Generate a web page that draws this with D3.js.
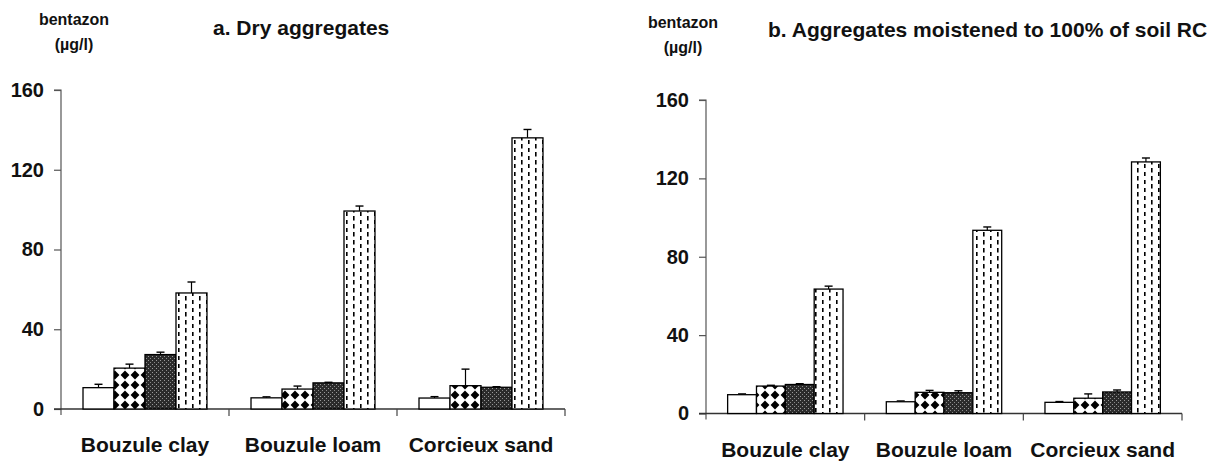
<!DOCTYPE html>
<html><head><meta charset="utf-8">
<script src="https://cdn.jsdelivr.net/npm/d3@7"></script>
<style>
html,body{margin:0;padding:0;background:#fff;}
svg text{font-family:"Liberation Sans",Arial,Helvetica,sans-serif;font-weight:bold;fill:#111;}
</style></head>
<body>
<svg id="chart" width="1214" height="461"></svg>
<script>
// ---- data ----
const categories = ["Bouzule clay", "Bouzule loam", "Corcieux sand"];
const seriesKeys = ["plain", "diamond", "dark", "dashed"];
const yTicks = [0, 40, 80, 120, 160];

// a. Dry aggregates
const dryPlain   = [10.7, 5.6, 5.5];
const dryDiamond = [20.5, 10.0, 11.7];
const dryDark    = [27.3, 13.1, 10.9];
const dryDashed  = [58.2, 99.3, 136.0];
const dryPlainErr   = [1.7, 0.5, 0.7];
const dryDiamondErr = [2.0, 1.5, 8.3];
const dryDarkErr    = [1.2, 0.3, 0.3];
const dryDashedErr  = [5.5, 2.5, 4.2];

// b. Aggregates moistened to 100% of soil RC
const wetPlain   = [9.6, 6.0, 5.7];
const wetDiamond = [14.0, 10.8, 7.8];
const wetDark    = [14.8, 10.6, 11.0];
const wetDashed  = [63.5, 93.5, 128.4];
const wetPlainErr   = [0.4, 0.4, 0.4];
const wetDiamondErr = [0.4, 1.0, 2.2];
const wetDarkErr    = [0.4, 1.0, 1.0];
const wetDashedErr  = [1.5, 1.7, 2.0];

const yLabel1 = "bentazon";
const yLabel2 = "(µg/l)";
const titleA = "a. Dry aggregates";
const titleB = "b. Aggregates moistened to 100% of soil RC";

// ---- drawing ----
const svg = d3.select("#chart");
const defs = svg.append("defs");

// diamond pattern
const pd = defs.append("pattern").attr("id","pat-diamond").attr("patternUnits","userSpaceOnUse")
  .attr("width",10).attr("height",10);
pd.append("rect").attr("width",10).attr("height",10).attr("fill","#fff");
pd.append("path").attr("d","M5,0.6 L9.4,5 L5,9.4 L0.6,5 Z").attr("fill","#000");
// dark stipple pattern
const pk = defs.append("pattern").attr("id","pat-dark").attr("patternUnits","userSpaceOnUse")
  .attr("width",4).attr("height",4);
pk.append("rect").attr("width",4).attr("height",4).attr("fill","#2b2b2b");
pk.append("rect").attr("x",0).attr("y",0).attr("width",1).attr("height",1).attr("fill","#9a9a9a");
pk.append("rect").attr("x",2).attr("y",2).attr("width",1).attr("height",1).attr("fill","#8a8a8a");
// dashed pattern
const pv = defs.append("pattern").attr("id","pat-dashed").attr("patternUnits","userSpaceOnUse")
  .attr("width",14).attr("height",8);
pv.append("rect").attr("width",14).attr("height",8).attr("fill","#fff");
pv.append("rect").attr("x",3).attr("y",0).attr("width",1.6).attr("height",4.5).attr("fill","#000");
pv.append("rect").attr("x",10).attr("y",4).attr("width",1.6).attr("height",4.5).attr("fill","#000");

const fills = {plain:"#fff", diamond:"url(#pat-diamond)", dark:"url(#pat-dark)", dashed:"url(#pat-dashed)"};

function panel(cfg){
  const {x0,x1,yZero,yTop,pad,means,errs,title,titleX,titleY,lab1,lab2} = cfg;
  const y = d3.scaleLinear().domain([0,160]).range([yZero,yTop]);
  const x = d3.scaleBand().domain(categories).range([x0,x1]).padding(0);
  const xs = d3.scaleBand().domain(seriesKeys).range([0,x.bandwidth()]).paddingInner(0).paddingOuter(pad);
  const g = svg.append("g");

  // y axis
  const yAxis = d3.axisLeft(y).tickValues(yTicks).tickSize(7).tickPadding(10).tickFormat(d3.format("d"));
  const ya = g.append("g").attr("transform",`translate(${x0},0)`).call(yAxis);
  ya.select(".domain").attr("d",`M-7,${yTop}H0V${yZero+6}`).attr("stroke","#555").attr("stroke-width",1.2).attr("fill","none");
  ya.selectAll(".tick line").attr("stroke","#555").attr("stroke-width",1.2);
  ya.selectAll(".tick text").attr("font-size",20).attr("font-weight","bold").attr("fill","#111")
    .attr("font-family","'Liberation Sans',Arial,sans-serif");

  // x axis
  const xAxis = d3.axisBottom(x).tickSize(0).tickFormat("");
  const xa = g.append("g").attr("transform",`translate(0,${yZero})`).call(xAxis);
  xa.select(".domain").attr("d",`M${x0-7},0H${x1}`).attr("stroke","#333").attr("stroke-width",1.4);
  xa.selectAll(".tick").remove();
  // boundary ticks
  g.selectAll(".bt").data(categories).enter().append("line")
    .attr("x1",d=>x(d)+x.bandwidth()).attr("x2",d=>x(d)+x.bandwidth())
    .attr("y1",yZero).attr("y2",yZero+7).attr("stroke","#444").attr("stroke-width",1.2);
  // category labels
  g.selectAll(".cl").data(categories).enter().append("text")
    .attr("x",d=>x(d)+x.bandwidth()/2).attr("y",cfg.catY)
    .attr("text-anchor","middle").attr("font-size",21).text(d=>d);

  // bars
  categories.forEach((c,ci)=>{
    seriesKeys.forEach((s,si)=>{
      const v = means[si][ci], e = errs[si][ci];
      const bx = x(c)+xs(s), bw = xs.bandwidth();
      const cx = bx + bw/2;
      g.append("line").attr("x1",cx).attr("x2",cx).attr("y1",y(v)).attr("y2",y(v+e))
        .attr("stroke","#000").attr("stroke-width",1.2);
      g.append("line").attr("x1",cx-4).attr("x2",cx+4).attr("y1",y(v+e)).attr("y2",y(v+e))
        .attr("stroke","#000").attr("stroke-width",1.4);
      g.append("rect").attr("x",bx).attr("y",y(v)).attr("width",bw).attr("height",yZero-y(v))
        .attr("fill",fills[s]).attr("stroke","#000").attr("stroke-width",1.3);
    });
  });

  // labels
  g.append("text").attr("x",titleX).attr("y",titleY).attr("font-size",21).text(title);
  g.append("text").attr("x",cfg.labX).attr("y",cfg.lab1Y).attr("text-anchor","middle").attr("font-size",16).text(lab1);
  g.append("text").attr("x",cfg.labX).attr("y",cfg.lab2Y).attr("text-anchor","middle").attr("font-size",16).text(lab2);
}

panel({x0:61,x1:565,yZero:409,yTop:90,pad:0.71,
  means:[dryPlain,dryDiamond,dryDark,dryDashed],
  errs:[dryPlainErr,dryDiamondErr,dryDarkErr,dryDashedErr],
  title:titleA,titleX:213,titleY:35,lab1:yLabel1,lab2:yLabel2,labX:74,lab1Y:25,lab2Y:50,catY:452});

panel({x0:706,x1:1182,yZero:413.5,yTop:100,pad:0.75,
  means:[wetPlain,wetDiamond,wetDark,wetDashed],
  errs:[wetPlainErr,wetDiamondErr,wetDarkErr,wetDashedErr],
  title:titleB,titleX:768,titleY:37,lab1:yLabel1,lab2:yLabel2,labX:683,lab1Y:28,lab2Y:53,catY:457});
</script>
</body></html>
